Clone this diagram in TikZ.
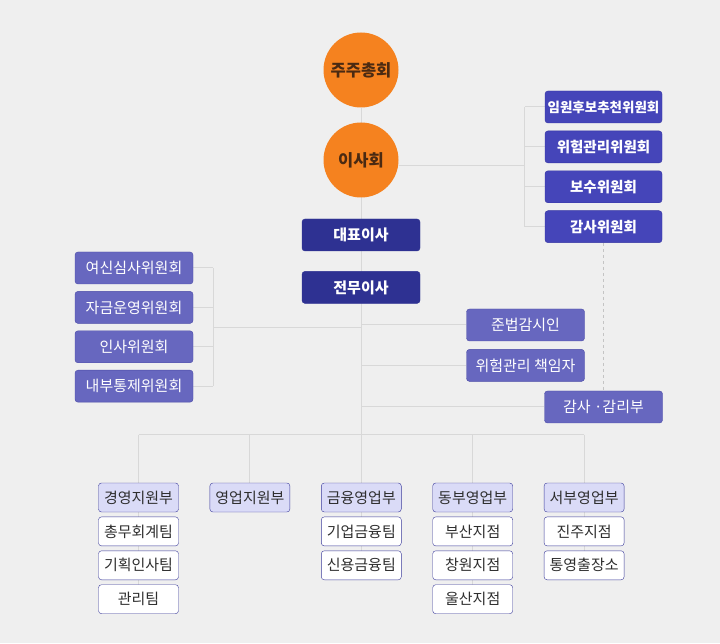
\documentclass[tikz,border=0pt]{standalone}
\usepackage{fontspec}
\setmainfont{Noto Sans CJK KR}
\usepackage{tikz}
\usetikzlibrary{positioning, backgrounds, calc}
\definecolor{pageGray}{HTML}{EFEFEF}
\definecolor{linkGray}{HTML}{D8D8D8}
\definecolor{dashGray}{HTML}{C4C4C4}
\definecolor{meetOrange}{HTML}{F5821F}
\definecolor{meetText}{HTML}{4A2A12}
\definecolor{chiefNavy}{HTML}{2E3192}
\definecolor{boardBlue}{HTML}{4545B9}
\definecolor{boardEdge}{HTML}{3535A3}
\definecolor{staffPurple}{HTML}{6767BF}
\definecolor{staffEdge}{HTML}{4B4BA8}
\definecolor{deptLav}{HTML}{DADBF7}
\definecolor{deptEdge}{HTML}{3B3B9B}
\definecolor{deptText}{HTML}{2E2E2E}

\begin{document}
\begin{tikzpicture}[
    x=1pt, y=1pt,
    node distance=7pt,
    circ/.style={circle, fill=meetOrange, minimum size=75pt, inner sep=0pt,
                 text=meetText, font=\fontsize{16.5}{16.5}\selectfont\bfseries},
    topbox/.style={rectangle, rounded corners=3pt, fill=chiefNavy, draw=chiefNavy,
                   minimum width=118pt, minimum height=32pt, inner sep=1pt,
                   text=white, font=\fontsize{15}{15}\selectfont\bfseries},
    cmtbox/.style={rectangle, rounded corners=3pt, fill=boardBlue, draw=boardEdge,
                   minimum width=117pt, minimum height=32pt, inner sep=1pt,
                   text=white, font=\fontsize{14.5}{15}\selectfont\bfseries},
    staffbox/.style={rectangle, rounded corners=3pt, fill=staffPurple, draw=staffEdge,
                     minimum width=118pt, minimum height=32pt, inner sep=1pt,
                     text=white, font=\fontsize{15}{15}\selectfont},
    deptbox/.style={rectangle, rounded corners=3pt, fill=deptLav, draw=deptEdge,
                    minimum width=80pt, minimum height=29pt, inner sep=1pt,
                    text=deptText, font=\fontsize{15}{15}\selectfont},
    teambox/.style={deptbox, fill=white},
    link/.style={draw=linkGray, line width=1pt},
]

% Page
\begin{scope}[on background layer]
\fill[pageGray] (0,0) rectangle (720,643);
\end{scope}

% Meetings
\node[circ] (agm) at (361,573) {주주총회};
\node[circ] (board) at (361,483) {이사회};

% Executives
\node[topbox] (ceo) at (361,408) {대표이사};
\node[topbox, below=20pt of ceo] (exec) {전무이사};

% Board committees
\node[cmtbox, font=\fontsize{13.5}{14}\selectfont\bfseries] (nomc) at (603.5,536) {임원후보추천위원회};
\node[cmtbox, below=7.5pt of nomc] (riskc) {위험관리위원회};
\node[cmtbox, below=7.5pt of riskc] (payc) {보수위원회};
\node[cmtbox, below=7.5pt of payc] (auditc) {감사위원회};

% Management committees
\node[staffbox] (loanc) at (134,375) {여신심사위원회};
\node[staffbox, below=7pt of loanc] (fundc) {자금운영위원회};
\node[staffbox, below=7pt of fundc] (hrc) {인사위원회};
\node[staffbox, below=7pt of hrc] (ictrlc) {내부통제위원회};

% Staff
\node[staffbox] (comp) at (525.5,318) {준법감시인};
\node[staffbox, below=8pt of comp] (riskm) {위험관리 책임자};
\node[staffbox] (audd) at (603.5,236) {감사 ·감리부};

% Departments
\coordinate (bus) at (361,208);
\node[deptbox] (mgmt) at (138.5,145.5) {경영지원부};
\node[deptbox, right=31pt of mgmt] (sales) {영업지원부};
\node[deptbox, right=31pt of sales] (fin) {금융영업부};
\node[deptbox, right=31pt of fin] (east) {동부영업부};
\node[deptbox, right=31pt of east] (west) {서부영업부};

% Teams and branches
\node[teambox, below=4.5pt of mgmt] (mgmt1) {총무회계팀};
\node[teambox, below=4.5pt of mgmt1] (mgmt2) {기획인사팀};
\node[teambox, below=4.5pt of mgmt2] (mgmt3) {관리팀};
\node[teambox, below=4.5pt of fin] (fin1) {기업금융팀};
\node[teambox, below=4.5pt of fin1] (fin2) {신용금융팀};
\node[teambox, below=4.5pt of east] (east1) {부산지점};
\node[teambox, below=4.5pt of east1] (east2) {창원지점};
\node[teambox, below=4.5pt of east2] (east3) {울산지점};
\node[teambox, below=4.5pt of west] (west1) {진주지점};
\node[teambox, below=4.5pt of west1] (west2) {통영출장소};

% Connectors
\begin{scope}[on background layer]
\draw[link] (agm.south) -- (bus);
\coordinate (rbr) at ([xshift=-20pt]nomc.west);
\draw[link] ([yshift=-6pt]board.east) -- ([yshift=-6pt]board.east -| rbr);
\draw[link] (rbr) -- (rbr |- auditc.west);
\foreach \c in {nomc,riskc,payc,auditc}
    \draw[link] (\c.west) -- (\c.west -| rbr);
\coordinate (lbr) at ([xshift=20pt]loanc.east);
\draw[link] (lbr) -- (lbr |- ictrlc.east);
\foreach \c in {loanc,fundc,hrc,ictrlc}
    \draw[link] (\c.east) -- (\c.east -| lbr);
\coordinate (lmid) at ($(fundc.south)!0.5!(hrc.north)$);
\draw[link] (lmid -| lbr) -- (lmid -| agm);
\foreach \s in {comp,riskm,audd}
    \draw[link] (\s.west) -- (\s.west -| agm);
\draw[dashGray, line width=1pt, dash pattern=on 3pt off 3pt] (auditc.south) -- (audd.north);
\draw[link] (mgmt |- bus) -- (west |- bus);
\foreach \d/\e in {mgmt/mgmt3, sales/sales, fin/fin2, east/east3, west/west2}
    \draw[link] (\d |- bus) -- (\e);
\end{scope}

\end{tikzpicture}
\end{document}
